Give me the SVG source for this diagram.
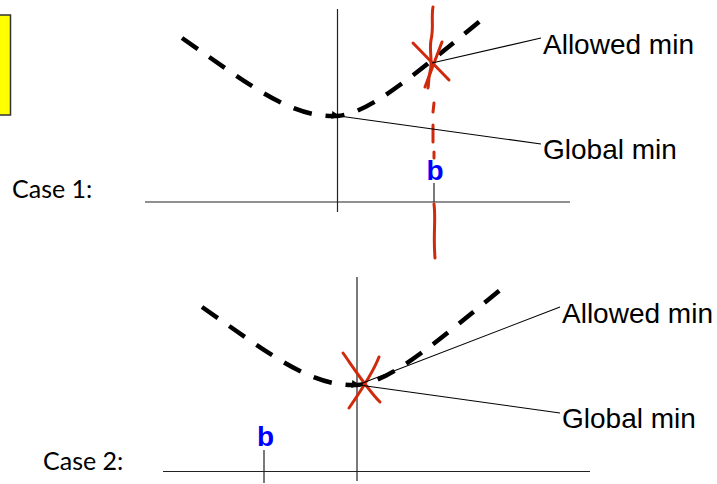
<svg xmlns="http://www.w3.org/2000/svg" width="717" height="484" viewBox="0 0 717 484">
<style>
.axis{stroke:#222;stroke-width:1.2;fill:none}
.curve{stroke:#000;stroke-width:4.5;fill:none;stroke-dasharray:19 14}
.lead{stroke:#000;stroke-width:1.1;fill:none}
.red{stroke:#d02a0c;stroke-width:3;fill:none;stroke-linecap:round;stroke-linejoin:round}
.lbl{font-family:"Liberation Sans",Arial,sans-serif;font-size:28px;fill:#000}
.case{font-family:Lato,"Open Sans",sans-serif;font-size:25px;fill:#000}
.b{font-family:"Liberation Sans",Arial,sans-serif;font-size:28px;font-weight:bold;fill:#0000ff;text-anchor:middle}
</style>
<defs>
<marker id="arr" viewBox="0 0 10 10" refX="1" refY="5" markerWidth="10" markerHeight="8" markerUnits="userSpaceOnUse" orient="auto">
<path d="M10,0 L0,5 L10,10 z" fill="#000"/>
</marker>
</defs>
<rect id="yellowbox" x="-3" y="15" width="13.5" height="100" fill="#ffff00" stroke="#333" stroke-width="1.5"/>

<g id="case1">
<text class="case" x="12" y="198">Case 1:</text>
<line class="axis" x1="145" y1="202" x2="570" y2="202"/>
<line class="axis" x1="337.5" y1="9" x2="337.5" y2="212"/>
<path class="curve" d="M182,38 C250,85 290,118 337,116 C370,114 420,70 485,17"/>
<line class="axis" x1="434" y1="183" x2="434" y2="202"/>
<text class="b" x="435" y="180">b</text>
<g id="redmark1">
<path class="red" d="M433,7 C431,18 434,28 431,40 C429,52 433,62 430,72 C428,80 429,84 428,88"/>
<path class="red" d="M413,43 L449,80"/>
<path class="red" d="M442,42 L425,87"/>
<path class="red" d="M434,103 L433,112 M433,125 L433,142 M434,152 L434,158"/>
<path class="red" d="M434,204 C436,220 433,235 435,258"/>
</g>
<text class="lbl" x="543" y="54">Allowed min</text>
<text class="lbl" x="543" y="159">Global min</text>
</g>

<g id="case2">
<text class="case" x="43" y="470">Case 2:</text>
<line class="axis" x1="163" y1="471.5" x2="590" y2="471.5"/>
<line class="axis" x1="357" y1="277" x2="357" y2="481"/>
<path class="curve" d="M202,307 C270,354 310,387 357,385 C390,383 440,339 505,286"/>
<line class="axis" x1="264" y1="450" x2="264" y2="483"/>
<text class="b" x="265.5" y="446">b</text>
<g id="redmark2">
<path class="red" d="M343,353 C355,370 368,390 380,402"/>
<path class="red" d="M379,357 C372,375 360,392 349,408"/>
</g>
<text class="lbl" x="562" y="323">Allowed min</text>
<text class="lbl" x="562" y="428">Global min</text>
</g>

<g id="connectors">
<line class="lead" x1="432" y1="63" x2="541" y2="38"/>
<line class="lead" x1="541" y1="144" x2="339" y2="116" marker-end="url(#arr)"/>
<line class="lead" x1="360" y1="384" x2="560" y2="307"/>
<line class="lead" x1="560" y1="413" x2="359" y2="385" marker-end="url(#arr)"/>
</g>
</svg>
